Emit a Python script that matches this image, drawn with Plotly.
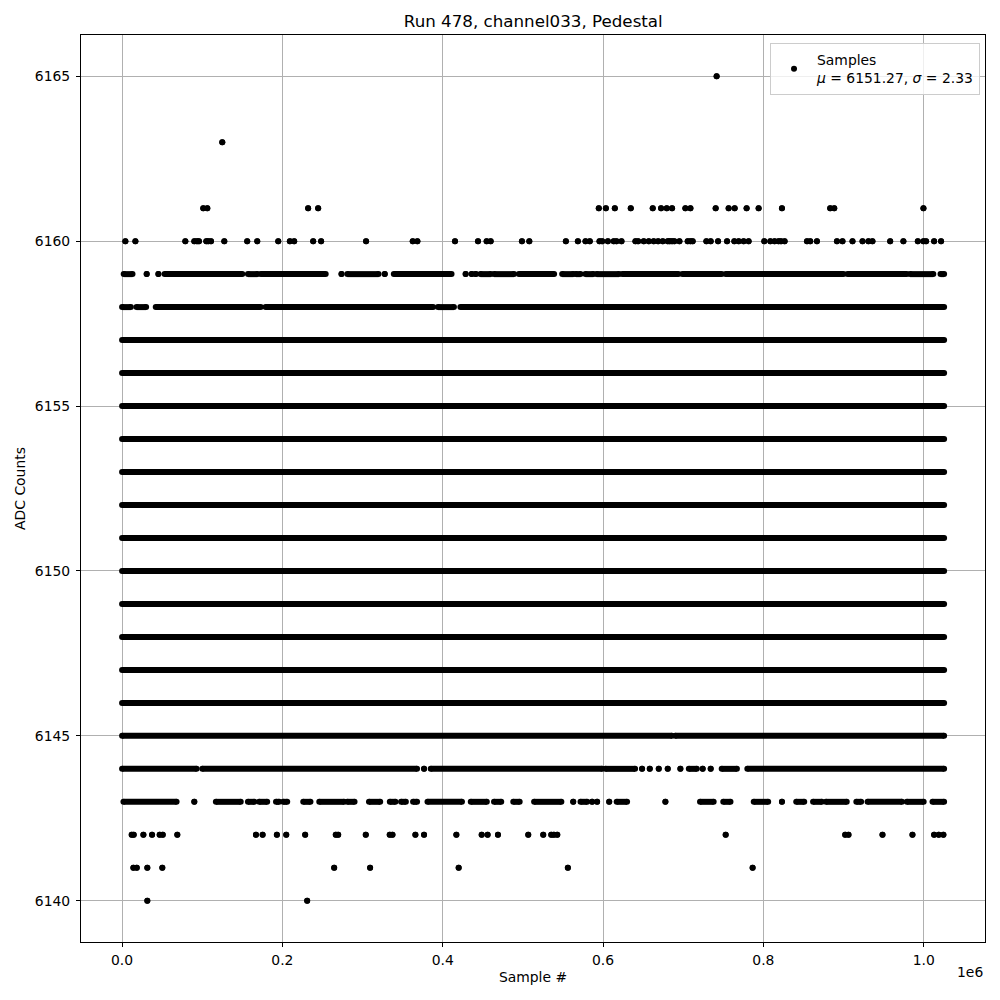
import plotly.graph_objects as go

# ---- data (sample index, ADC level); each entry is a run (start, end) of samples at that level ----
N_LAST = 1025500

seg_6140 = [(31500, 31500), (230900, 230900)]
seg_6141 = [(14100, 14100), (18300, 18300), (31500, 31500), (50200, 50200), (264600, 264600),
            (309400, 309400), (419900, 419900), (556100, 556100), (786600, 786600)]
seg_6142 = [(12000, 12000), (14500, 14500), (26600, 26600), (37400, 37400), (46900, 46900),
            (50700, 50700), (68900, 68900), (167000, 167000), (175300, 175300), (193100, 193100),
            (204800, 204800), (228400, 228400), (266600, 266600), (269600, 269600), (304000, 304000),
            (333900, 333900), (337300, 337300), (365900, 365900), (376700, 376700), (417000, 417000),
            (448600, 448600), (456000, 456000), (468900, 468900), (506700, 506700), (525400, 525400),
            (535400, 535400), (538700, 538700), (542900, 542900), (753000, 753000), (902100, 902100),
            (906200, 906200), (948600, 948600), (986000, 986000), (1013000, 1013000),
            (1018800, 1018800), (1024600, 1024600)]
seg_6143 = [(1700, 68000), (90100, 90100), (117000, 148000), (157000, 165000), (171000, 181000),
            (192000, 196000), (201000, 206000), (226000, 235000), (246000, 277000), (281000, 290000),
            (308000, 322000), (334000, 341000), (348000, 354000), (363000, 368000), (381000, 424000),
            (435000, 455000), (464000, 473000), (488000, 496000), (514000, 548000), (562800, 562800),
            (571900, 580200), (586400, 586400), (592600, 592600), (607700, 607700), (617000, 630000),
            (677800, 677800), (721000, 738000), (750000, 759000), (788000, 806000), (823200, 823200),
            (841000, 851000), (862000, 873000), (878000, 904000), (916000, 922000), (930000, 973000),
            (979000, 1000000), (1011000, N_LAST)]
seg_6144 = [(0, 93000), (100000, 368000), (376700, 376700), (385000, 599000), (603000, 640000),
            (648700, 648700), (658300, 658300), (669500, 669500), (680700, 680700), (696500, 696500),
            (707000, 717000), (724300, 724300), (734300, 734300), (748000, 767000), (780000, N_LAST)]
seg_6145 = [(0, 686000), (690000, N_LAST)]
seg_6146 = [(0, N_LAST)]
seg_6147 = [(0, N_LAST)]
seg_6148 = [(0, N_LAST)]
seg_6149 = [(0, N_LAST)]
seg_6150 = [(0, N_LAST)]
seg_6151 = [(0, N_LAST)]
seg_6152 = [(0, N_LAST)]
seg_6153 = [(0, N_LAST)]
seg_6154 = [(0, N_LAST)]
seg_6155 = [(0, N_LAST)]
seg_6156 = [(0, N_LAST)]
seg_6157 = [(0, N_LAST)]
seg_6158 = [(0, 11000), (18000, 30000), (42000, 173000), (179000, 388000), (394000, 414000),
            (422000, N_LAST)]
seg_6159 = [(2000, 13000), (30700, 30700), (45300, 45300), (53000, 150000), (157000, 169000),
            (173000, 254000), (273700, 273700), (281000, 320000), (327700, 327700), (339000, 411000),
            (428600, 428600), (436100, 436100), (441100, 441100), (447000, 460000), (464000, 489000),
            (495000, 539000), (549000, 563000), (566000, 572000), (578000, 588000), (592000, 620000),
            (624000, 694000), (699000, 748000), (753000, 900000), (905000, 979000), (983000, 1012000),
            (1021000, N_LAST)]
x_6160 = [4100, 16600, 78900, 90100, 93500, 95900, 105100, 107500, 110900, 127500, 156100, 168600,
          194800, 209300, 214700, 238400, 248300, 304400, 362600, 368400, 415300, 444000, 454800,
          459800, 498800, 508000, 553600, 568600, 578100, 583500, 595600, 598900, 606000, 613400,
          616800, 623000, 640400, 643800, 650800, 657000, 663200, 668700, 674500, 680700, 683200,
          686100, 689000, 695300, 705600, 709000, 711800, 728900, 734300, 743500, 754700, 763800,
          769200, 775400, 781600, 801200, 808700, 814000, 819000, 822000, 826500, 854400, 858500,
          866800, 891800, 898700, 911200, 923700, 931100, 936100, 958200, 974700, 992700, 999700,
          1003000, 1013000, 1021700]
x_6161 = [101300, 106300, 232100, 244600, 594700, 603500, 614700, 634600, 662000, 672400, 679500,
          686100, 702700, 709000, 740500, 756700, 764200, 779100, 794100, 823200, 883400, 888400,
          999700]
x_6163 = [125000]
x_6165 = [741700]

x_tick_vals = [0, 200000, 400000, 600000, 800000, 1000000]
x_tick_text = ["0.0", "0.2", "0.4", "0.6", "0.8", "1.0"]
y_tick_vals = [6140, 6145, 6150, 6155, 6160, 6165]

# ---- build traces ----
segments = {
    6140: seg_6140, 6141: seg_6141, 6142: seg_6142, 6143: seg_6143, 6144: seg_6144,
    6145: seg_6145, 6146: seg_6146, 6147: seg_6147, 6148: seg_6148, 6149: seg_6149,
    6150: seg_6150, 6151: seg_6151, 6152: seg_6152, 6153: seg_6153, 6154: seg_6154,
    6155: seg_6155, 6156: seg_6156, 6157: seg_6157, 6158: seg_6158, 6159: seg_6159,
}
points = {6160: x_6160, 6161: x_6161, 6163: x_6163, 6165: x_6165}

xs, ys = [], []
for level, segs in segments.items():
    for s, e in segs:
        xs += [s, e, None]
        ys += [level, level, None]
for level, pts in points.items():
    for p in pts:
        xs += [p, p, None]
        ys += [level, level, None]

FONT = "DejaVu Sans"
FS = 13.9
fig = go.Figure()
fig.add_trace(go.Scatter(
    x=xs, y=ys, mode="lines+markers",
    line=dict(color="black", width=6),
    marker=dict(color="black", size=6, line=dict(width=0)),
    connectgaps=False, showlegend=False, hoverinfo="skip",
))
fig.add_trace(go.Scatter(
    x=[None], y=[None], mode="markers",
    marker=dict(color="black", size=6),
    name="Samples<br><i>μ</i> = 6151.27, <i>σ</i> = 2.33",
))

axis_common = dict(
    showline=True, linecolor="black", linewidth=1, mirror=True,
    showgrid=True, gridcolor="#b0b0b0", gridwidth=0.8,
    ticks="outside", ticklen=4, tickcolor="black", tickwidth=1,
    tickfont=dict(family=FONT, size=FS, color="black"),
    zeroline=False, automargin=False,
)
fig.update_layout(
    width=992, height=992,
    margin=dict(l=73, r=15, t=27, b=58),
    plot_bgcolor="white", paper_bgcolor="white",
    font=dict(family=FONT, color="black", size=FS),
    title=dict(text="Run 478, channel033, Pedestal", x=0.5295, xanchor="center",
               y=0.9866, yanchor="middle", font=dict(family=FONT, size=16.7, color="black")),
    xaxis=dict(range=[-51250, 1076500], tickvals=x_tick_vals, ticktext=x_tick_text,
               title=dict(text="Sample #", font=dict(family=FONT, size=FS), standoff=5),
               ticklabelstandoff=1, **axis_common),
    yaxis=dict(range=[6138.75, 6166.25], tickvals=y_tick_vals,
               title=dict(text="ADC Counts", font=dict(family=FONT, size=FS), standoff=5),
               ticklabelstandoff=3, **axis_common),
    legend=dict(x=0.9945, y=0.991, xanchor="right", yanchor="top", itemwidth=36,
                bgcolor="rgba(255,255,255,0.8)", bordercolor="#cccccc", borderwidth=1,
                font=dict(family=FONT, size=FS, color="black")),
    annotations=[dict(text="1e6", xref="paper", yref="paper", x=1.0, y=-0.033,
                      xanchor="right", yanchor="middle", showarrow=False,
                      font=dict(family=FONT, size=FS, color="black"))],
)

fig.write_html("out.html")
